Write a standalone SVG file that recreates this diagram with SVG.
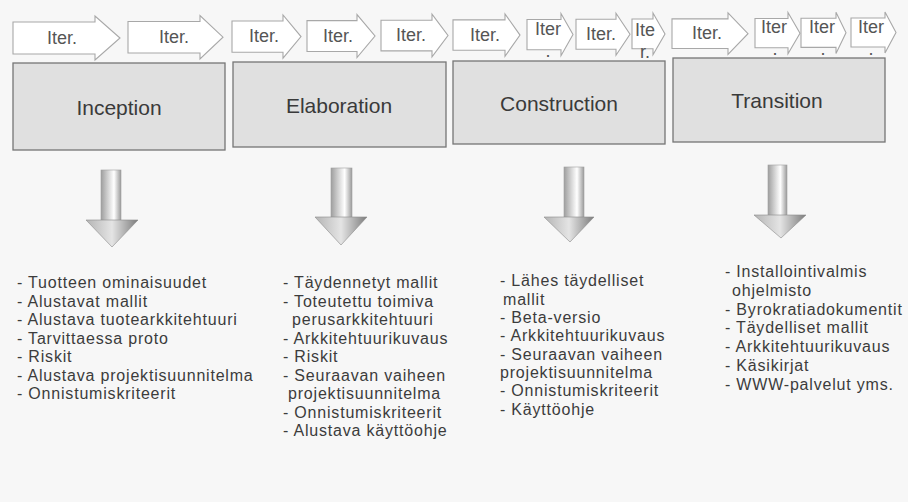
<svg xmlns="http://www.w3.org/2000/svg" width="908" height="502" viewBox="0 0 908 502">
  <style>
    .iter { fill: #ffffff; stroke: #a8a8a8; stroke-width: 1.1; }
    .iter-t { font-family: "Liberation Sans", Arial, sans-serif; font-size: 18px; fill: #555555; text-anchor: middle; }
    .phase { fill: #e0e0e0; stroke: #767676; stroke-width: 1.3; }
    .phase-t { font-family: "Liberation Sans", Arial, sans-serif; font-size: 21px; fill: #3a3a3a; text-anchor: middle; }
    .list { font-family: "Liberation Sans", Arial, sans-serif; font-size: 16px; letter-spacing: 0.8px; fill: #3c3c3c; }
    .shaft { fill: url(#shaftGrad); stroke: #a0a0a0; stroke-width: 0.6; }
    .head { fill: url(#headGrad); stroke: #8a8a8a; stroke-width: 0.6; }
  </style>
  <defs>
    <linearGradient id="shaftGrad" x1="0" y1="0" x2="1" y2="0">
      <stop offset="0" stop-color="#9e9e9e"/>
      <stop offset="0.45" stop-color="#e2e2e2"/>
      <stop offset="0.65" stop-color="#ffffff"/>
      <stop offset="1" stop-color="#9a9a9a"/>
    </linearGradient>
    <linearGradient id="headGrad" x1="0" y1="0" x2="1" y2="0">
      <stop offset="0" stop-color="#b4b4b4"/>
      <stop offset="0.5" stop-color="#e4e4e4"/>
      <stop offset="1" stop-color="#7c7c7c"/>
    </linearGradient>
  </defs>

  <rect width="908" height="502" fill="#f7f7f7"/>

  <!-- iteration chevrons -->
  <g id="iterations">
    <g id="iter-1">
      <path class="iter" d="M13,22 H95 V16 L120,38 L95,60 V54 H13 Z"/>
      <text class="iter-t" x="62" y="43.5">Iter.</text>
    </g>
    <g id="iter-2">
      <path class="iter" d="M128,21.5 H200 V15.5 L223,37.2 L200,59 V53 H128 Z"/>
      <text class="iter-t" x="174" y="42.7">Iter.</text>
    </g>
    <g id="iter-3">
      <path class="iter" d="M232,21 H283 V15 L301,36.6 L283,58.2 V52.2 H232 Z"/>
      <text class="iter-t" x="264" y="42">Iter.</text>
    </g>
    <g id="iter-4">
      <path class="iter" d="M307,20.6 H357 V14.6 L375,36 L357,57.5 V51.5 H307 Z"/>
      <text class="iter-t" x="338" y="41.5">Iter.</text>
    </g>
    <g id="iter-5">
      <path class="iter" d="M381,20.2 H432 V14.2 L448,35.5 L432,56.9 V50.9 H381 Z"/>
      <text class="iter-t" x="411" y="41">Iter.</text>
    </g>
    <g id="iter-6">
      <path class="iter" d="M453,19.9 H505 V13.9 L520,35.1 L505,56.3 V50.3 H453 Z"/>
      <text class="iter-t" x="485" y="40.6">Iter.</text>
    </g>
    <g id="iter-7">
      <path class="iter" d="M527,19.5 H561 V13.5 L573,34.6 L561,55.7 V49.7 H527 Z"/>
      <text class="iter-t" x="548" y="35">Iter</text>
      <text class="iter-t" x="548" y="56.5">.</text>
    </g>
    <g id="iter-8">
      <path class="iter" d="M576,19.3 H616 V13.3 L630,34.3 L616,55.3 V49.3 H576 Z"/>
      <text class="iter-t" x="601" y="39.8">Iter.</text>
    </g>
    <g id="iter-9">
      <path class="iter" d="M632,19 H653 V13 L665,33.9 L653,54.8 V48.8 H632 Z"/>
      <text class="iter-t" x="645" y="36">Ite</text>
      <text class="iter-t" x="645" y="57.5">r.</text>
    </g>
    <g id="iter-10">
      <path class="iter" d="M672,18.9 H728 V12.9 L748,33.7 L728,54.5 V48.5 H672 Z"/>
      <text class="iter-t" x="707" y="39.2">Iter.</text>
    </g>
    <g id="iter-11">
      <path class="iter" d="M755,18.5 H788 V12.5 L800,33.2 L788,53.8 V47.8 H755 Z"/>
      <text class="iter-t" x="774" y="33">Iter</text>
      <text class="iter-t" x="775" y="54.5">.</text>
    </g>
    <g id="iter-12">
      <path class="iter" d="M801,18.2 H836 V12.2 L846,32.8 L836,53.4 V47.4 H801 Z"/>
      <text class="iter-t" x="822" y="33">Iter</text>
      <text class="iter-t" x="823" y="54.5">.</text>
    </g>
    <g id="iter-13">
      <path class="iter" d="M851,18 H885 V12 L896,32.5 L885,53 V47 H851 Z"/>
      <text class="iter-t" x="871" y="33">Iter</text>
      <text class="iter-t" x="871" y="54.5">.</text>
    </g>
  </g>

  <!-- phases -->
  <g id="inception">
    <rect class="phase" x="13" y="63" width="212" height="87"/>
    <text class="phase-t" x="119" y="115">Inception</text>
  </g>
  <g id="elaboration">
    <rect class="phase" x="233" y="62" width="213" height="85"/>
    <text class="phase-t" x="339" y="113">Elaboration</text>
  </g>
  <g id="construction">
    <rect class="phase" x="453" y="61" width="212" height="83"/>
    <text class="phase-t" x="559" y="110.5">Construction</text>
  </g>
  <g id="transition">
    <rect class="phase" x="673" y="58" width="212" height="84"/>
    <text class="phase-t" x="777" y="108">Transition</text>
  </g>

  <!-- block arrows from each phase down to its deliverables -->
  <g id="connectors">
    <g id="arrow-inception">
      <rect class="shaft" x="101" y="170" width="20" height="51"/>
      <path class="head" d="M86,220 H138 L112,247 Z"/>
    </g>
    <g id="arrow-elaboration">
      <rect class="shaft" x="331" y="168" width="21" height="50"/>
      <path class="head" d="M315,217 H367 L341,245 Z"/>
    </g>
    <g id="arrow-construction">
      <rect class="shaft" x="564" y="167" width="20" height="51"/>
      <path class="head" d="M544,217 H594 L570,242 Z"/>
    </g>
    <g id="arrow-transition">
      <rect class="shaft" x="768" y="165" width="19" height="51"/>
      <path class="head" d="M754,215 H806 L781,238 Z"/>
    </g>
  </g>

  <!-- deliverables -->
  <g id="deliverables-inception" class="list">
    <text x="17" y="288">- Tuotteen ominaisuudet</text>
    <text x="17" y="306.5">- Alustavat mallit</text>
    <text x="17" y="325">- Alustava tuotearkkitehtuuri</text>
    <text x="17" y="343.5">- Tarvittaessa proto</text>
    <text x="17" y="362">- Riskit</text>
    <text x="17" y="380.5">- Alustava projektisuunnitelma</text>
    <text x="17" y="399">- Onnistumiskriteerit</text>
  </g>
  <g id="deliverables-elaboration" class="list">
    <text x="283" y="288">- Täydennetyt mallit</text>
    <text x="283" y="306.5">- Toteutettu toimiva</text>
    <text x="292" y="325">perusarkkitehtuuri</text>
    <text x="283" y="343.5">- Arkkitehtuurikuvaus</text>
    <text x="283" y="362">- Riskit</text>
    <text x="283" y="380.5">- Seuraavan vaiheen</text>
    <text x="288" y="399">projektisuunnitelma</text>
    <text x="283" y="417.5">- Onnistumiskriteerit</text>
    <text x="283" y="436">- Alustava käyttöohje</text>
  </g>
  <g id="deliverables-construction" class="list">
    <text x="500" y="286">- Lähes täydelliset</text>
    <text x="503" y="304.5">mallit</text>
    <text x="500" y="323">- Beta-versio</text>
    <text x="500" y="341">- Arkkitehtuurikuvaus</text>
    <text x="500" y="359.5">- Seuraavan vaiheen</text>
    <text x="500" y="378">projektisuunnitelma</text>
    <text x="500" y="396">- Onnistumiskriteerit</text>
    <text x="500" y="414.5">- Käyttöohje</text>
  </g>
  <g id="deliverables-transition" class="list">
    <text x="725" y="277">- Installointivalmis</text>
    <text x="732" y="295.8">ohjelmisto</text>
    <text x="725" y="314.6">- Byrokratiadokumentit</text>
    <text x="725" y="333.4">- Täydelliset mallit</text>
    <text x="725" y="352.2">- Arkkitehtuurikuvaus</text>
    <text x="725" y="371">- Käsikirjat</text>
    <text x="725" y="389.8">- WWW-palvelut yms.</text>
  </g>
</svg>
